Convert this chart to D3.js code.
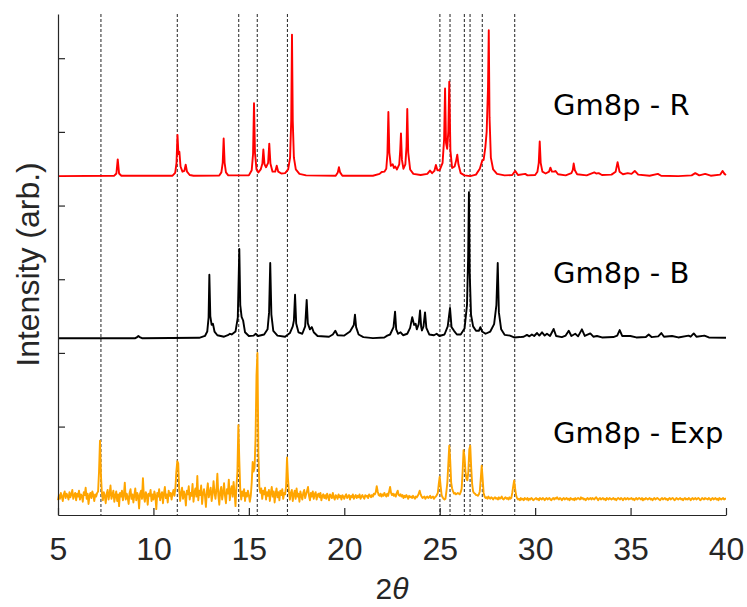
<!DOCTYPE html>
<html><head><meta charset="utf-8">
<script src="https://cdn.jsdelivr.net/npm/d3@7"></script>
<style>body{margin:0;background:#fff}svg{display:block}</style>
</head><body><svg id="c" width="747" height="607"></svg>
<script>
const xTicks=[5,10,15,20,25,30,35,40];
const yTicks=[0,10,20,30,40,50];
const refLines=[7.25,11.25,14.47,15.44,17.02,25.01,25.54,26.29,26.59,27.23,28.93];
const seriesNames=["Gm8p - R","Gm8p - B","Gm8p - Exp"];
const seriesOffsets=[34.0,12.0,-9.6];
const seriesColors=["#ff0000","#000000","#ffa500"];

const redData=[[5,0],[7.95,0.05],[8.06,0.35],[8.13,2.26],[8.2,0.35],[8.32,0.05],
[11.0,0.05],[11.14,0.45],[11.21,1.8],[11.26,5.6],[11.31,3.0],[11.36,3.3],[11.42,1.3],[11.52,0.6],[11.62,0.7],[11.69,1.55],[11.76,0.6],[11.9,0.15],[12.1,0.05],
[13.45,0.08],[13.56,0.5],[13.63,1.8],[13.68,5.1],[13.73,1.8],[13.8,0.5],[13.92,0.1],
[15.0,0.1],[15.15,0.8],[15.22,3.0],[15.27,9.9],[15.32,3.2],[15.4,0.9],[15.5,0.5],[15.62,0.9],[15.71,1.7],[15.76,3.6],[15.82,1.6],[15.9,1.2],[16.01,1.8],[16.07,4.4],[16.13,1.7],[16.24,0.6],[16.38,0.6],[16.46,1.4],[16.54,0.6],[16.7,0.35],[16.9,0.4],[17.06,0.9],[17.16,2.5],[17.22,7.5],[17.26,19.2],[17.30,7.5],[17.36,2.5],[17.46,0.9],[17.65,0.3],[18.0,0.1],
[19.55,0.05],[19.66,0.5],[19.72,1.2],[19.78,0.5],[19.9,0.05],
[21.5,0.05],[21.85,0.3],[21.96,0.55],[22.1,0.6],[22.2,1.0],[22.26,3.0],[22.31,8.7],[22.36,3.2],[22.44,1.4],[22.54,1.6],[22.6,1.1],[22.67,1.3],[22.76,0.9],[22.88,1.6],[22.93,3.5],[22.97,5.8],[23.02,2.2],[23.1,1.0],[23.2,1.6],[23.26,4.0],[23.30,9.1],[23.35,3.2],[23.45,0.9],[23.62,0.3],[24.0,0.15],[24.35,0.3],[24.49,0.75],[24.6,0.4],[24.72,0.7],[24.80,1.5],[24.88,0.8],[25.0,0.8],[25.15,1.8],[25.23,5.0],[25.28,11.9],[25.33,4.5],[25.39,3.7],[25.45,6.0],[25.50,12.8],[25.56,3.5],[25.65,1.1],[25.78,1.3],[25.86,2.1],[25.92,2.9],[25.98,1.6],[26.1,0.4],[26.3,0.1],[26.6,0.0],[26.9,0.2],[27.1,1.0],[27.23,2.1],[27.3,2.2],[27.39,3.9],[27.46,6.0],[27.53,12.0],[27.57,19.8],[27.61,8.0],[27.68,2.5],[27.8,0.9],[28.0,0.3],[28.4,0.1],[28.8,0.15],[28.96,0.7],[29.1,0.15],[29.48,0.3],[29.6,0.1],[30.0,0.15],[30.12,0.6],[30.19,1.8],[30.24,4.7],[30.29,1.8],[30.38,0.6],[30.55,0.35],[30.73,0.6],[30.8,1.15],[30.88,0.6],[31.0,0.6],[31.06,0.7],[31.2,0.25],[31.6,0.1],[31.9,0.4],[31.97,0.8],[32.02,1.7],[32.08,0.8],[32.2,0.25],[32.7,0.1],[33.0,0.4],[33.1,0.5],[33.2,0.35],[33.33,0.4],[33.5,0.15],[34.0,0.2],[34.22,0.6],[34.32,1.9],[34.42,0.6],[34.6,0.25],[34.85,0.4],[35.05,0.3],[35.22,0.7],[35.4,0.2],[36.0,0.05],[36.43,0.3],[36.6,0.05],[37.5,0.0],[38.2,0.1],[38.39,0.4],[38.6,0.1],[38.91,0.3],[39.2,0.05],[39.7,0.2],[39.82,0.7],[39.92,0.3],[40,0.15]];

const blackData=[[5,0],[9.05,0],[9.15,0.15],[9.21,0.3],[9.28,0.15],[9.4,0],
[12.4,0.05],[12.7,0.3],[12.82,0.9],[12.89,2.8],[12.93,8.6],[12.98,3.0],[13.05,1.8],[13.12,1.95],[13.2,0.9],[13.35,0.4],[13.7,0.2],[13.9,0.4],[14.01,0.6],[14.1,0.5],[14.3,0.9],[14.42,2.8],[14.5,12.1],[14.55,4.5],[14.62,2.9],[14.7,2.4],[14.8,0.8],[15.0,0.3],[15.25,0.35],[15.36,0.6],[15.48,0.3],[15.8,0.5],[15.98,1.2],[16.06,3.5],[16.12,10.2],[16.18,3.2],[16.28,1.0],[16.5,0.35],[16.9,0.2],[17.15,0.7],[17.3,1.6],[17.36,2.4],[17.42,5.9],[17.48,2.0],[17.6,0.8],[17.8,0.6],[17.95,1.6],[18.03,5.2],[18.09,2.0],[18.2,1.2],[18.3,1.5],[18.4,0.8],[18.6,0.3],[19.2,0.2],[19.4,0.5],[19.53,1.0],[19.65,0.4],[20.0,0.35],[20.3,0.9],[20.5,1.8],[20.56,3.2],[20.62,1.5],[20.75,0.5],[21.0,0.15],[21.5,0.0],[22.1,0.1],[22.25,0.35],[22.4,0.5],[22.58,1.5],[22.66,3.6],[22.72,1.2],[22.82,0.6],[22.95,0.8],[23.08,0.4],[23.3,0.6],[23.45,1.4],[23.56,2.85],[23.66,1.8],[23.74,1.95],[23.8,1.2],[23.9,1.9],[23.97,3.75],[24.03,1.5],[24.07,1.05],[24.15,1.6],[24.23,3.5],[24.3,1.4],[24.45,0.5],[24.7,0.4],[24.84,0.6],[24.98,0.3],[25.25,0.5],[25.42,1.6],[25.54,4.1],[25.62,1.5],[25.75,1.0],[25.9,0.5],[26.1,0.5],[26.3,1.3],[26.43,4.5],[26.49,11],[26.53,19.8],[26.57,9],[26.64,3.2],[26.75,1.6],[26.9,1.0],[27.05,1.0],[27.13,1.5],[27.22,0.9],[27.4,0.6],[27.65,0.9],[27.85,1.9],[27.97,4.5],[28.04,10.2],[28.1,3.5],[28.22,1.2],[28.4,0.45],[28.68,0.35],[28.9,0.1],[29.2,0.15],[29.4,0.2],[29.57,0.45],[29.7,0.25],[29.83,0.5],[29.95,0.3],[30.1,0.7],[30.22,0.35],[30.36,0.8],[30.5,0.35],[30.62,0.6],[30.78,0.3],[30.97,1.25],[31.1,0.3],[31.4,0.15],[31.6,0.35],[31.76,1.0],[31.9,0.3],[32.1,0.6],[32.25,0.25],[32.45,1.2],[32.6,0.3],[32.89,0.65],[33.05,0.2],[33.24,0.3],[33.5,0.1],[34.1,0.15],[34.3,0.35],[34.43,1.1],[34.56,0.3],[34.99,0.3],[35.3,0.1],[35.8,0.15],[35.95,0.5],[36.1,0.15],[36.45,0.25],[36.61,0.7],[36.75,0.2],[37.17,0.3],[37.5,0.1],[38.04,0.35],[38.15,0.2],[38.31,0.65],[38.45,0.2],[38.87,0.35],[39.1,0.1],[40,0.05]];

// experimental pattern sampled every 0.05 deg from 5 to 40
const expStart=5, expStep=0.05;
const expValues=[
-0.4,0.3,-0.2,0.6,0.1,-0.5,0.4,0.8,-0.1,0.5,0.2,-0.3,0.7,0.0,0.4,1.0,-0.2,0.3,0.6,-0.4,
0.5,0.1,0.9,-0.3,0.4,0.2,-0.6,0.7,0.3,1.3,-0.2,0.5,-0.9,0.2,0.6,-0.1,0.8,0.3,-0.5,0.4,
0.1,0.6,0.8,3.5,7.7,3.0,0.5,-0.4,0.7,0.2,-0.8,0.5,1.0,-0.3,0.4,1.6,-0.2,0.3,0.9,-0.6,
0.2,0.8,-0.5,0.4,-1.2,0.6,0.1,0.9,-0.4,0.3,2.0,-0.3,0.5,0.0,-0.9,0.6,1.1,-0.2,0.4,-0.7,
0.3,1.2,-0.4,0.6,0.2,-1.5,0.5,0.9,-0.2,2.6,0.1,-0.6,0.7,0.3,-1.0,0.5,0.2,1.0,-0.5,0.4,
-0.3,0.8,0.2,-1.6,0.6,0.1,1.1,-0.4,0.3,0.7,-0.8,0.5,1.4,-0.1,0.4,-0.7,0.9,0.2,0.6,-0.3,
0.5,1.0,0.2,1.2,3.5,4.9,4.6,1.0,-0.5,0.6,1.3,-0.2,0.8,0.3,-1.1,0.9,0.4,1.5,-0.3,0.6,
0.2,1.8,-0.6,0.7,1.2,0.1,2.9,-0.4,0.9,0.3,1.6,-0.9,0.5,1.1,0.2,-1.3,0.8,1.9,0.0,0.6,
1.3,-0.5,0.4,2.2,0.7,-0.2,1.0,3.2,0.3,-1.0,0.8,1.4,-0.3,0.6,1.9,0.2,-0.8,1.1,0.5,2.4,
-0.4,0.9,1.5,0.1,2.1,0.6,-1.2,1.5,3.5,9.8,5.0,1.0,-0.3,0.8,0.2,1.1,-0.5,0.6,0.1,0.9,
0.3,-0.6,0.2,2.0,4.8,3.5,4.0,8.0,16.5,19.6,6.0,1.5,0.6,1.2,-0.2,0.9,0.4,1.3,-0.3,0.7,
0.2,1.0,-0.5,0.6,1.4,0.1,0.8,-0.7,0.5,1.2,0.0,0.7,-0.4,0.9,0.3,1.1,-0.2,0.6,0.4,1.5,
5.4,2.5,0.8,-0.3,0.6,1.0,-0.5,0.4,0.9,-0.2,1.2,0.1,0.5,-0.6,0.8,0.2,-0.3,0.6,1.0,-0.1,
0.4,0.9,1.4,0.2,-0.4,0.6,0.1,0.8,-0.2,0.4,0.7,-0.3,0.3,0.5,0.0,0.6,-0.4,0.2,0.4,-0.1,
0.3,-0.2,0.5,0.1,-0.4,0.4,0.2,-0.1,0.6,0.0,-0.3,0.3,0.1,-0.2,0.4,0.0,0.2,-0.3,0.3,0.1,
-0.2,0.2,0.4,-0.1,0.1,0.3,-0.3,0.2,0.0,0.4,-0.2,0.1,0.3,-0.1,0.2,0.0,0.4,-0.2,0.1,0.3,
0.0,-0.2,0.3,0.1,0.2,-0.1,0.4,0.2,0.0,0.3,0.1,0.5,0.4,0.7,1.5,0.8,0.3,0.2,0.5,0.1,
0.4,0.2,0.6,0.3,0.1,0.5,0.2,0.8,1.4,0.6,0.3,0.5,0.2,0.4,0.1,0.6,0.9,0.3,0.2,0.4,
0.1,0.3,-0.1,0.2,0.0,0.3,0.1,-0.2,0.2,0.0,0.1,-0.1,0.2,0.0,-0.2,0.1,0.0,0.2,0.5,0.9,
0.4,0.1,-0.1,0.0,0.1,-0.2,0.0,0.1,-0.1,0.0,0.2,-0.1,0.0,0.1,-0.2,0.0,0.1,0.3,0.6,1.8,
2.8,1.5,0.3,0.0,-0.2,-0.3,-0.2,0.8,2.0,4.5,7.0,5.0,2.0,1.2,0.8,0.5,0.6,0.4,0.5,0.6,
0.5,0.4,0.7,1.2,3.5,6.4,5.5,3.5,2.5,2.3,3.5,6.5,7.0,4.0,1.8,0.8,0.6,0.5,0.3,0.3,
0.2,0.4,0.8,2.5,4.3,2.5,0.6,0.1,-0.1,0.0,-0.2,0.1,-0.1,-0.2,0.0,-0.1,-0.3,-0.1,0.0,-0.2,
-0.1,-0.3,0.0,-0.2,-0.1,0.1,-0.2,-0.3,-0.1,0.0,-0.2,-0.1,-0.3,0.0,-0.2,-0.1,0.6,1.5,2.3,1.2,
0.3,-0.1,-0.3,-0.2,-0.4,-0.1,-0.3,-0.2,-0.4,-0.1,-0.2,-0.3,-0.1,-0.4,-0.2,-0.3,-0.1,-0.2,-0.4,-0.3,
-0.2,-0.1,-0.3,-0.2,-0.4,-0.1,-0.2,-0.3,-0.1,-0.2,-0.4,-0.2,-0.1,-0.3,-0.2,-0.1,-0.3,-0.4,-0.2,-0.1,
-0.3,-0.1,-0.2,0.0,-0.2,-0.3,-0.1,-0.2,-0.4,-0.2,-0.1,-0.3,-0.2,-0.1,-0.3,-0.2,-0.4,-0.1,-0.2,-0.3,
-0.2,-0.4,-0.1,-0.3,-0.2,-0.1,-0.2,-0.3,0.0,-0.2,-0.1,-0.3,-0.2,-0.4,-0.2,-0.1,-0.3,-0.2,-0.1,-0.3,
-0.1,-0.2,-0.3,-0.1,0.0,-0.2,-0.4,-0.2,-0.1,-0.3,-0.2,-0.1,-0.3,-0.2,-0.4,-0.1,-0.2,-0.3,-0.1,-0.2,
-0.3,-0.2,-0.1,-0.3,-0.2,-0.4,-0.2,-0.1,-0.2,-0.3,-0.1,-0.2,-0.4,-0.2,-0.1,-0.3,-0.2,-0.1,-0.3,-0.2,
-0.2,-0.1,-0.3,-0.2,-0.4,-0.2,-0.1,-0.3,-0.2,-0.1,-0.2,-0.3,-0.1,-0.4,-0.2,-0.3,-0.1,-0.2,-0.3,-0.2,
-0.1,-0.3,-0.2,-0.4,-0.2,-0.1,-0.3,-0.2,-0.1,-0.2,-0.3,-0.4,-0.2,-0.1,-0.3,-0.2,-0.1,-0.3,-0.2,-0.4,
-0.2,-0.1,-0.3,-0.2,-0.1,-0.2,-0.4,-0.3,-0.1,-0.2,-0.3,-0.2,-0.1,-0.3,-0.2,-0.4,-0.2,-0.1,-0.3,-0.2,
-0.3,-0.1,-0.2,-0.4,-0.2,-0.1,-0.3,-0.2,-0.1,-0.3,-0.2,-0.1,-0.2,-0.4,-0.3,-0.1,-0.2,-0.3,-0.1,-0.2,
-0.2,-0.3,-0.1,-0.2,-0.4,-0.2,-0.1,-0.3,-0.2,-0.1,-0.3,-0.2,-0.4,-0.1,-0.2,-0.3,-0.2,-0.1,-0.3,-0.2,
-0.2];
const expData=expValues.map((v,i)=>[expStart+i*expStep,v]);

const svg=d3.select("#c");
const x=d3.scaleLinear().domain([5,40]).range([58,726]);
const y=d3.scaleLinear().domain([-12,56]).range([515,14]);
const ink="#262626";

// reference dotted lines
svg.append("g").selectAll("line").data(refLines).join("line")
  .attr("x1",d=>x(d)).attr("x2",d=>x(d))
  .attr("y1",y(56)).attr("y2",y(-12))
  .attr("stroke","#222").attr("stroke-width",1).attr("stroke-dasharray","3,2");

const line=d3.line().x(d=>x(d[0]));
const all=[redData,blackData,expData];
[2,1,0].forEach(k=>{
  const off=seriesOffsets[k];
  svg.append("path").datum(all[k])
    .attr("fill","none").attr("stroke",seriesColors[k])
    .attr("stroke-width",k===2?1.9:1.9).attr("stroke-linejoin","round")
    .attr("d",line.y(d=>y(d[1]+off)));
});

// axes
const xa=svg.append("g").attr("transform",`translate(0,${y(-12)})`)
  .call(d3.axisBottom(x).tickValues(xTicks).tickSizeInner(-7).tickSizeOuter(0).tickPadding(22));
const ya=svg.append("g").attr("transform",`translate(${x(5)},0)`)
  .call(d3.axisLeft(y).tickValues(yTicks).tickSizeInner(-7).tickSizeOuter(0).tickFormat(""));
[xa,ya].forEach(g=>{
  g.select(".domain").attr("stroke",ink).attr("stroke-width",1.2);
  g.selectAll(".tick line").attr("stroke",ink).attr("stroke-width",1.2);
});
xa.selectAll(".tick text").attr("fill",ink)
  .style("font-family","'Liberation Sans',Arial,sans-serif").style("font-size","32px");

// axis titles
const xt=svg.append("text").attr("x",(x(5)+x(40))/2).attr("y",599)
  .attr("text-anchor","middle").attr("fill",ink)
  .style("font-family","'Liberation Sans',Arial,sans-serif").style("font-size","30px");
xt.append("tspan").attr("font-style","normal").text("2");
xt.append("tspan").attr("font-style","italic").text("θ");

svg.append("text").attr("transform",`translate(39,${(y(56)+y(-12))/2}) rotate(-90)`)
  .attr("text-anchor","middle").attr("fill",ink)
  .style("font-family","'Liberation Sans',Arial,sans-serif").style("font-size","32px")
  .text("Intensity (arb.)");

// series labels
const labelY=[115,283,443];
svg.append("g").selectAll("text").data(seriesNames).join("text")
  .attr("x",553).attr("y",(d,i)=>labelY[i])
  .attr("fill","#000")
  .style("font-family","'DejaVu Sans',Verdana,sans-serif").style("font-size","29px")
  .text(d=>d);
</script></body></html>
